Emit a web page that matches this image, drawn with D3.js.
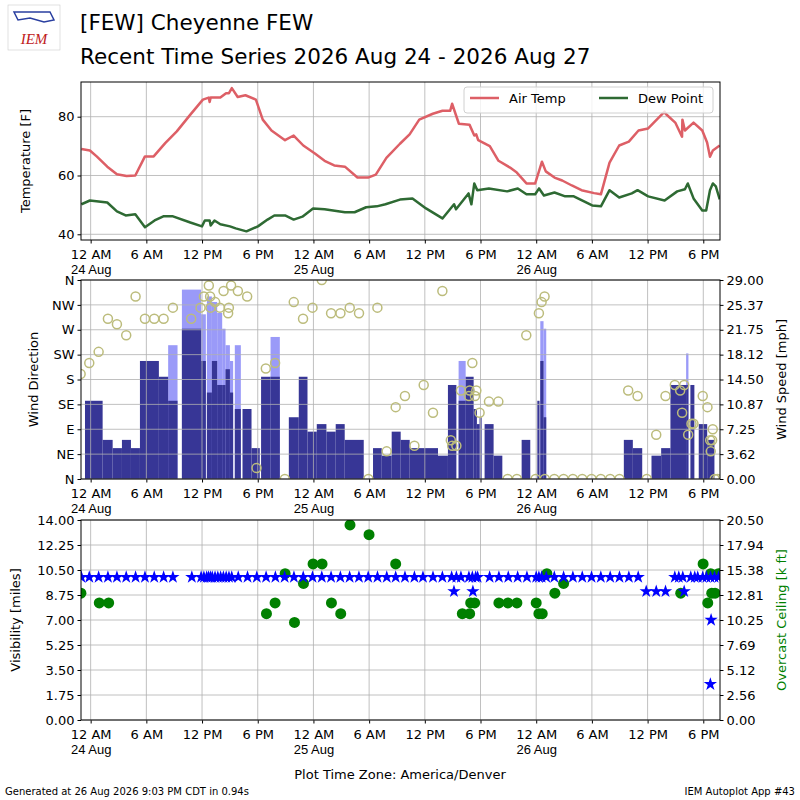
<!DOCTYPE html>
<html><head><meta charset="utf-8">
<script src="https://cdn.jsdelivr.net/npm/d3@7"></script>
<style>body{margin:0;background:#fff}svg{font-family:"DejaVu Sans",sans-serif}</style>
</head><body><svg id="c" width="800" height="800"></svg>
<script>
// hours since 2026-08-24 00:00 local (America/Denver)
const tempObs=[[-1.0,69],[-0.08,68.5],[0.65,66.5],[1.79,63],[2.83,60.4],[3.87,59.8],[4.81,60],[5.85,66.5],[6.79,66.5],[8.03,71],[9.28,75],[10.74,80.7],[12.09,85.8],[12.72,86.5],[12.82,85],[12.93,86.5],[13.97,86.5],[14.59,88],[14.9,88],[15.21,89.7],[15.84,86.7],[16.67,87.3],[17.8,85.8],[18.54,79],[19.48,75.3],[20.94,72],[21.87,73.6],[22.91,70.2],[24.16,67.5],[25.2,65],[26.24,63.4],[27.39,63],[28.74,59.3],[29.89,59.3],[30.72,60.3],[31.86,66],[33.32,70.8],[34.36,74],[35.4,79],[36.86,81],[37.9,82],[38.73,82],[38.94,84.4],[39.67,77.6],[40.81,77.3],[41.33,73.6],[41.54,74],[41.75,72],[43.0,70],[43.94,65],[45.18,62.7],[45.91,61],[46.95,57.3],[47.89,57.3],[48.62,64.7],[49.03,61.4],[49.97,59.3],[50.8,58.3],[51.84,56.6],[52.88,55],[54.24,54],[54.97,53.6],[55.9,64.4],[56.94,70.2],[57.98,71.5],[59.02,75.3],[60.06,76],[61.83,81.7],[61.94,81],[62.98,78],[63.71,73.2],[63.75,79],[64.02,75.3],[64.95,78],[65.89,75.3],[66.41,71.2],[66.72,66.4],[67.03,68.5],[67.77,70.2]];
const dewObs=[[-1.0,50.2],[-0.08,51.5],[1.79,50.8],[2.83,47.8],[3.77,46.4],[4.81,46.8],[5.85,42.4],[6.89,44.7],[7.83,46.1],[8.87,46.1],[10.74,44],[11.99,42.7],[12.3,44.7],[12.82,44.7],[12.93,43],[13.34,44.7],[13.97,43.4],[15.01,42.7],[15.63,42],[16.78,41],[18.02,42.7],[19.06,45],[19.79,46.4],[20.94,46.4],[21.87,45],[22.81,46],[23.96,48.8],[25.2,48.5],[27.39,47.5],[28.43,47.5],[29.68,49.2],[30.82,49.5],[31.76,50.2],[33.32,51.8],[34.67,52.2],[36.13,48.8],[37.9,45.4],[39.15,50.2],[39.36,48.5],[40.71,53.9],[41.02,50.2],[41.33,57.3],[41.65,55],[42.9,55.6],[44.87,54.6],[46.02,55.6],[46.95,53.6],[47.89,53.6],[48.31,55.6],[48.83,53.2],[49.97,54.2],[51.12,52.9],[52.05,52.9],[54.03,49.8],[54.97,49.5],[55.9,55],[56.94,52.5],[58.3,53.9],[58.92,55],[60.06,52.9],[61.83,51.5],[63.19,54.6],[64.02,55.3],[64.33,57.3],[64.95,52.2],[65.89,48.1],[66.31,48.1],[66.72,55],[67.03,57.3],[67.35,56.3],[67.77,51.9]];
// wind bars: [start hour, end hour, speed mph, gust mph or null]
const windBars=[[-0.61,1.29,11.4,null],[1.29,2.37,5.7,null],[2.37,3.37,4.5,null],[3.37,4.34,5.7,null],[4.34,5.31,4.5,null],[5.31,7.35,17.2,null],[7.35,8.35,14.9,null],[8.35,9.36,11.4,19.5],[9.83,11.9,21.9,27.6],[11.9,12.41,17.2,24],[12.52,13.06,12.6,26.6],[13.06,13.63,17.2,25.8],[13.63,14.17,13.7,24.2],[14.17,14.53,13.7,21.9],[14.53,15.0,16,19.5],[15.0,15.35,12.6,17.2],[15.53,16.18,10.2,19.5],[16.36,17.33,10.2,null],[17.33,18.22,4.5,null],[18.36,19.38,14.9,null],[19.38,20.38,14.9,20.7],[21.35,22.42,9.0,null],[22.42,23.36,14.9,null],[23.36,24.36,6.9,null],[24.36,25.4,8.0,null],[25.4,26.4,6.9,null],[26.4,27.37,8.0,null],[27.37,29.42,5.7,null],[30.42,31.36,4.5,null],[31.36,32.43,3.4,null],[32.43,33.4,6.9,null],[33.4,34.37,5.7,null],[34.37,37.42,4.5,null],[37.42,38.49,3.4,null],[38.49,39.4,13.7,null],[39.64,40.4,11.4,17.2],[40.4,41.26,14.9,null],[41.26,41.61,10.2,null],[41.61,41.9,8.0,null],[41.9,42.12,9.0,null],[42.44,43.41,8.0,null],[43.41,44.35,3.4,null],[46.43,47.36,5.7,null],[48.12,48.36,11.4,null],[48.44,48.79,17.2,23],[48.79,49.08,9.0,21.9],[57.44,58.41,5.7,null],[58.41,59.42,4.5,null],[60.42,61.46,3.4,null],[61.46,62.46,4.5,null],[62.46,64.15,13.7,null],[64.15,64.4,13.7,18.3],[64.61,65.04,13.7,null],[65.51,66.42,8.0,null],[66.42,67.2,5.7,null]];
const windDir=[[-1.08,190],[-0.15,210],[0.86,230],[1.86,290],[2.83,280],[3.83,260],[4.84,330],[5.85,290],[6.85,290],[7.86,290],[8.86,310],[10.83,290],[11.84,310],[12.2,330],[12.73,350],[12.87,330],[12.92,310],[13.41,320],[13.92,310],[14.32,340],[14.81,300],[14.89,310],[15.13,350],[15.86,340],[16.86,330],[17.87,20],[18.87,200],[19.87,210],[20.92,0],[21.88,320],[22.88,290],[23.9,310],[24.9,360],[25.9,300],[26.91,300],[27.91,310],[28.91,300],[29.92,0],[30.89,310],[31.89,50],[32.86,130],[33.86,150],[34.88,60],[35.88,170],[36.88,120],[37.89,340],[38.8,70],[38.95,60],[39.4,60],[39.89,160],[40.75,150],[40.83,160],[41.12,210],[41.4,150],[41.55,160],[41.9,120],[42.91,140],[43.92,140],[44.92,0],[45.92,0],[46.93,260],[47.93,0],[48.29,300],[48.58,320],[48.9,330],[48.93,0],[49.95,0],[50.95,0],[51.95,0],[52.96,0],[53.96,0],[54.96,0],[55.97,0],[56.97,0],[57.91,160],[58.92,150],[59.91,0],[60.93,80],[61.93,150],[62.93,170],[63.51,160],[63.72,120],[63.94,170],[64.37,80],[64.73,100],[64.94,100],[65.94,150],[66.45,130],[66.74,70],[66.8,50],[66.95,70],[67.02,90],[67.23,0],[67.52,0]];
const visObs=[[-1.0,10],[-0.15,10],[0.86,10],[1.86,10],[2.83,10],[3.83,10],[4.84,10],[5.85,10],[6.85,10],[7.86,10],[8.86,10],[10.9,10],[11.9,10],[12.2,10],[12.5,10],[12.7,10],[12.9,10],[13.1,10],[13.4,10],[13.7,10],[14.0,10],[14.3,10],[14.6,10],[14.9,10],[15.2,10],[15.9,10],[16.9,10],[17.9,10],[18.9,10],[19.9,10],[20.9,10],[21.9,10],[22.9,10],[23.9,10],[24.9,10],[25.9,10],[26.9,10],[27.9,10],[28.9,10],[29.9,10],[30.9,10],[31.9,10],[32.86,10],[33.86,10],[34.88,10],[35.8,10],[36.88,10],[37.89,10],[38.89,10],[39.14,9],[39.4,10],[39.89,10],[40.75,10],[41.12,10],[41.18,9],[41.48,10],[41.69,10],[42.98,10],[43.98,10],[44.99,10],[46.0,10],[47.0,10],[48.0,10],[48.29,10],[48.58,10],[49.08,10],[49.95,10],[50.95,10],[51.95,10],[52.96,10],[53.96,10],[54.96,10],[55.97,10],[56.97,10],[57.98,10],[58.99,10],[59.85,9],[60.93,9],[61.93,9],[62.93,10],[63.36,10],[63.79,10],[63.94,9],[64.65,10],[65.08,10],[65.4,10],[65.94,10],[66.34,10],[66.76,2.5],[66.78,10],[66.84,7],[67.21,10],[67.64,10]];
const ceilObs=[[-1.05,13],[0.93,12],[1.94,12],[18.94,10.9],[19.87,12],[20.95,15],[21.96,10],[22.93,14],[23.96,16],[24.93,16],[25.94,12],[26.94,10.9],[27.94,20],[29.99,19],[32.86,16],[40.04,10.9],[40.83,10.9],[40.94,12],[41.37,12],[43.98,12],[44.95,12],[45.92,12],[48.0,12],[48.29,10.9],[48.65,10.9],[49.15,15],[50.01,13],[50.95,14],[63.57,13],[65.98,16],[66.48,12],[66.8,15],[66.91,13],[67.27,13],[67.63,15]];
const dirLabels=["N","NE","E","SE","S","SW","W","NW","N"];
const spdTicks=["0.00","3.62","7.25","10.87","14.50","18.12","21.75","25.37","29.00"];
const visTicks=["0.00","1.75","3.50","5.25","7.00","8.75","10.50","12.25","14.00"];
const ceilTicks=["0.00","2.56","5.12","7.69","10.25","12.81","15.38","17.94","20.50"];

const svg=d3.select("#c");
const t0=Date.UTC(2026,7,24);
const T=h=>new Date(t0+h*3600e3);
const L=81,R=720;
const x=d3.scaleUtc().domain([T(-1.04),T(67.8)]).range([L,R]);
const fmt=d=>{const h=d.getUTCHours();return h===0?"12 AM":h===12?"12 PM":(h%12)+(h<12?" AM":" PM");};
const xt=d3.utcHour.every(6).range(T(0),T(67.8));
const grid="#b0b0b0";
svg.append("defs").selectAll("clipPath").data([[82,240],[280,479],[520,720]]).join("clipPath").attr("id",(d,i)=>"cp"+i)
 .append("rect").attr("x",L).attr("y",d=>d[0]).attr("width",R-L).attr("height",d=>d[1]-d[0]);

function xGrid(top,bot){
 svg.append("g").selectAll("line").data(xt).join("line").attr("x1",d=>x(d)).attr("x2",d=>x(d)).attr("y1",top).attr("y2",bot).attr("stroke",grid).attr("stroke-width",0.8);
}
function xAxis(bot){
 const ax=svg.append("g").attr("transform",`translate(0,${bot})`).call(d3.axisBottom(x).tickValues(xt).tickSize(3.5).tickFormat(fmt));
 ax.select(".domain").remove();
 ax.selectAll("text").attr("font-size",13).attr("fill","#000").attr("font-family","DejaVu Sans").attr("dy","0.95em");
 ax.selectAll(".tick").filter(d=>d.getUTCHours()===0).append("text").attr("y",22).attr("dy","0.95em").attr("fill","#000").attr("font-size",13).attr("text-anchor","middle").text(d=>d.getUTCDate()+" Aug");
}
function frame(top,bot){svg.append("rect").attr("x",L).attr("y",top).attr("width",R-L).attr("height",bot-top).attr("fill","none").attr("stroke","#000").attr("stroke-width",1);}
function yGrid(scale,vals){svg.append("g").selectAll("line").data(vals).join("line").attr("x1",L).attr("x2",R).attr("y1",d=>scale(d)).attr("y2",d=>scale(d)).attr("stroke",grid).attr("stroke-width",0.8);}
function styleAx(ax,color){ax.select(".domain").remove();ax.selectAll("text").attr("font-size",13).attr("fill",color||"#000").attr("font-family","DejaVu Sans");}
function ylabel(txt,xpos,top,bot,color){svg.append("text").attr("transform",`translate(${xpos},${(top+bot)/2}) rotate(-90)`).attr("text-anchor","middle").attr("font-size",13).attr("fill",color||"#000").text(txt);}

// ---- Panel 1
const y1=d3.scaleLinear().domain([38.06,91.8]).range([240,82]);
xGrid(82,240);xAxis(240);
yGrid(y1,[40,60,80]);
const ya1=svg.append("g").attr("transform",`translate(${L},0)`).call(d3.axisLeft(y1).tickValues([40,60,80]).tickSize(3.5));styleAx(ya1);
ylabel("Temperature [F]",30,82,240);
const line=d3.line().x(d=>x(T(d[0]))).y(d=>y1(d[1]));
const p1=svg.append("g").attr("clip-path","url(#cp0)");
p1.append("path").datum(tempObs).attr("d",line).attr("fill","none").attr("stroke","#dd5f66").attr("stroke-width",2.5).attr("stroke-linejoin","round");
p1.append("path").datum(dewObs).attr("d",line).attr("fill","none").attr("stroke","#2e6a33").attr("stroke-width",2.5).attr("stroke-linejoin","round");
frame(82,240);
const lg=svg.append("g");
lg.append("rect").attr("x",464).attr("y",87).attr("width",249).attr("height",26).attr("rx",3).attr("fill","#fff").attr("fill-opacity",0.8).attr("stroke","#d0d0d0");
[["Air Temp","#dd5f66",470],["Dew Point","#2e6a33",599]].forEach(d=>{
 lg.append("line").attr("x1",d[2]).attr("x2",d[2]+29).attr("y1",98).attr("y2",98).attr("stroke",d[1]).attr("stroke-width",2.5);
 lg.append("text").attr("x",d[2]+39).attr("y",103).attr("font-size",13).text(d[0]);
});

// ---- Panel 2
const yd=d3.scaleLinear().domain([0,360]).range([479,280]);
const ys=d3.scaleLinear().domain([0,29]).range([479,280]);
const p2=svg.append("g").attr("clip-path","url(#cp1)");
p2.selectAll("rect.g").data(windBars.filter(d=>d[3]!=null)).join("rect").attr("x",d=>x(T(d[0]))).attr("width",d=>x(T(d[1]))-x(T(d[0]))).attr("y",d=>ys(d[3])).attr("height",d=>479-ys(d[3])).attr("fill","#9a9af8");
p2.selectAll("rect.s").data(windBars).join("rect").attr("x",d=>x(T(d[0]))).attr("width",d=>x(T(d[1]))-x(T(d[0]))).attr("y",d=>ys(d[2])).attr("height",d=>479-ys(d[2])).attr("fill","#373696");
xGrid(280,479);xAxis(479);
yGrid(yd,d3.range(0,361,45));
const p2b=svg.append("g").attr("clip-path","url(#cp1)");
p2b.selectAll("circle").data(windDir).join("circle").attr("cx",d=>x(T(d[0]))).attr("cy",d=>yd(d[1])).attr("r",4.5).attr("fill","none").attr("stroke","#bcbc7c").attr("stroke-width",1.5);
const ya2=svg.append("g").attr("transform",`translate(${L},0)`).call(d3.axisLeft(yd).tickValues(d3.range(0,361,45)).tickSize(3.5).tickFormat((d,i)=>dirLabels[i]));styleAx(ya2);
const ya2r=svg.append("g").attr("transform",`translate(${R},0)`).call(d3.axisRight(yd).tickValues(d3.range(0,361,45)).tickSize(3.5).tickFormat((d,i)=>spdTicks[i]));styleAx(ya2r);
ylabel("Wind Direction",38,280,479);
ylabel("Wind Speed [mph]",786,280,479);
frame(280,479);

// ---- Panel 3
const yv=d3.scaleLinear().domain([0,14]).range([720,520]);
const yc=d3.scaleLinear().domain([0,20.5]).range([720,520]);
xGrid(520,720);xAxis(720);
yGrid(yv,d3.range(0,14.01,1.75));
const p3=svg.append("g").attr("clip-path","url(#cp2)");
p3.selectAll("circle").data(ceilObs).join("circle").attr("cx",d=>x(T(d[0]))).attr("cy",d=>yc(d[1])).attr("r",5.5).attr("fill","#008000");
p3.selectAll("path").data(visObs).join("path").attr("transform",d=>`translate(${x(T(d[0]))},${yv(d[1])})`).attr("d",d3.symbol(d3.symbolStar,55)).attr("fill","#0000ff");
const ya3=svg.append("g").attr("transform",`translate(${L},0)`).call(d3.axisLeft(yv).tickValues(d3.range(0,14.01,1.75)).tickSize(3.5).tickFormat((d,i)=>visTicks[i]));styleAx(ya3);
const ya3r=svg.append("g").attr("transform",`translate(${R},0)`).call(d3.axisRight(yv).tickValues(d3.range(0,14.01,1.75)).tickSize(3.5).tickFormat((d,i)=>ceilTicks[i]));styleAx(ya3r);
ylabel("Visibility [miles]",20,520,720);
ylabel("Overcast Ceiling [k ft]",786,520,720,"#008000");
frame(520,720);

// ---- Titles
svg.append("text").attr("x",80).attr("y",30).attr("font-size",21.5).text("[FEW] Cheyenne FEW");
svg.append("text").attr("x",80).attr("y",64).attr("font-size",21.5).text("Recent Time Series 2026 Aug 24 - 2026 Aug 27");
svg.append("text").attr("x",400).attr("y",779).attr("text-anchor","middle").attr("font-size",13).text("Plot Time Zone: America/Denver");
svg.append("text").attr("x",5).attr("y",795).attr("font-size",10).text("Generated at 26 Aug 2026 9:03 PM CDT in 0.94s");
svg.append("text").attr("x",795).attr("y",795).attr("text-anchor","end").attr("font-size",10).text("IEM Autoplot App #43");
// logo
const lo=svg.append("g");
lo.append("rect").attr("x",8).attr("y",5).attr("width",52).attr("height",45).attr("fill","#fff").attr("stroke","#ccc").attr("stroke-width",0.6);
lo.append("path").attr("d","M14,12 L50,12 L54,20 L44,22 L30,18 L18,20 Z").attr("fill","none").attr("stroke","#2a3fa0").attr("stroke-width",1.5);
lo.append("text").attr("x",34).attr("y",44).attr("text-anchor","middle").attr("font-size",15).attr("font-style","italic").attr("font-family","Liberation Serif").attr("fill","#c02020").text("IEM");
</script></body></html>
